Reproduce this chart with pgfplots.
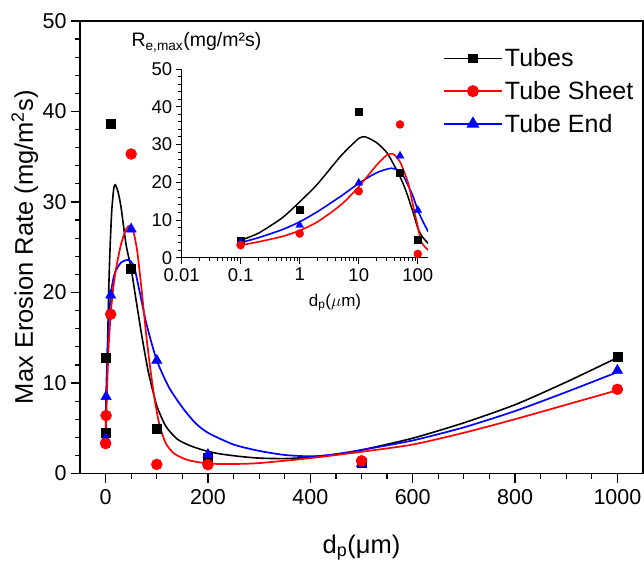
\documentclass[border=0pt]{standalone}
\usepackage{pgfplots}
\pgfplotsset{compat=1.18}
\usepackage{fontspec}
\setmainfont{Liberation Sans}
\begin{document}
\begin{tikzpicture}
\begin{axis}[
  name=main, at={(0pt,0pt)}, anchor=south west,
  scale only axis, width=563pt, height=452.5pt,
  xmin=-50, xmax=1050, ymin=0, ymax=50,
  xtick={0,200,...,1000}, ytick={0,10,...,50},
  minor x tick num=3, minor y tick num=4,
  tick align=outside, xtick pos=bottom, ytick pos=left,
  major tick length=9pt, minor tick length=5pt,
  axis line style={line width=1.3pt},
  every tick/.style={black, line width=1.2pt},
  tick label style={font=\fontsize{21.5}{25}\selectfont},
  /pgf/number format/assume math mode=true,
  /pgf/number format/1000 sep={},
  xticklabel style={yshift=-3pt},
  yticklabel style={xshift=-1pt},
  xlabel={d\textsubscript{p}(μm)},
  ylabel={Max Erosion Rate (mg/m\textsuperscript{2}s)},
  label style={font=\fontsize{25.5}{30}\selectfont},
  xlabel style={at={(axis description cs:0.5,-0.176)}, anchor=base},
  ylabel style={at={(axis description cs:-0.0835,0.5)}, anchor=base},
  legend style={draw=none, fill=none, at={(0.639,0.948)}, anchor=north west,
    font=\fontsize{25}{29}\selectfont, cells={anchor=west}, row sep=9pt,
    nodes={inner sep=2pt}},
  legend image code/.code={\draw[#1, mark repeat=2, mark phase=2] plot coordinates {(0pt,0pt) (29pt,0pt) (58pt,0pt)};},
]
\addlegendimage{black, line width=1.9pt, mark=square*, mark size=4pt}
\addlegendentry{Tubes}
\addlegendimage{red, line width=2pt, mark=*, mark size=5pt}
\addlegendentry{Tube Sheet}
\addlegendimage{blue, line width=2pt, mark=triangle*, mark size=5.5pt}
\addlegendentry{Tube End}

% fitted curves
\addplot[forget plot, black, line width=1.6pt, smooth, tension=0.4, mark=none] table {
0.1 4.5
1 5.8
3.5 13
6 20
8.6 24.7
12 29
16 31.5
19 31.9
24 31.2
30 29.5
40 25.3
50 22.6
60 19
72 14.8
84 11.1
100 7.5
118 5.2
140 3.8
164 3.1
190 2.6
220 2.2
260 1.9
300 1.7
350 1.65
400 1.8
450 2.15
500 2.6
600 3.9
700 5.6
800 7.6
900 10.1
1000 12.8
};
\addplot[forget plot, blue, line width=1.7pt, smooth, tension=0.4, mark=none] table {
0.1 4.0
1 8.5
3 12.5
6 16.5
10 19.7
15 21.5
20 22.4
30 23.3
44 23.6
55 23
65 20.5
80 16.5
100 12.5
124 9.5
150 7.3
175 5.6
200 4.5
250 3.2
300 2.5
350 2.05
400 1.9
450 2.1
500 2.6
600 3.65
700 5.1
800 6.9
900 9.0
1000 11.2
};
\addplot[forget plot, red, line width=1.7pt, smooth, tension=0.4, mark=none] table {
0.1 3.3
1 6.0
3 9.5
6 14
10 17.6
15 20.5
20 22.5
30 25.3
40 27
48 27.4
55 26.6
62 24.5
70 20.5
80 15
88.5 11.1
97 7.8
106 5.2
118 3.3
134 2.2
160 1.5
200 1.1
250 1.05
300 1.15
400 1.7
500 2.4
600 3.2
700 4.5
800 6.0
900 7.6
1000 9.2
};
% data points
\addplot[forget plot, only marks, mark=square*, mark size=4.5pt, black] table {
0.1 4.5
1 12.8
10 38.6
50 22.6
100 4.9
200 1.8
500 1.2
1000 12.9
};
\addplot[forget plot, only marks, mark=triangle*, mark size=6pt, blue] table {
0.1 3.8
1 8.5
10 19.7
50 27.0
100 12.5
200 2.1
500 1.1
1000 11.4
};
\addplot[forget plot, only marks, mark=*, mark size=5.5pt, red] table {
0.1 3.3
1 6.4
10 17.6
50 35.3
100 1.0
200 0.97
500 1.4
1000 9.3
};
\end{axis}

\begin{axis}[
  name=inset, at={(101.6pt,215.8pt)}, anchor=south west,
  scale only axis, width=246.6pt, height=188.7pt,
  xmode=log, xmin=0.01, xmax=150, ymin=0, ymax=50,
  axis lines=left, axis line style={-, line width=1pt},
  xtick={0.01,0.1,1,10,100}, xticklabels={0.01,0.1,1,10,100},
  minor xtick={0.02,0.03,0.04,0.05,0.06,0.07,0.08,0.09,0.2,0.3,0.4,0.5,0.6,0.7,0.8,0.9,2,3,4,5,6,7,8,9,20,30,40,50,60,70,80,90},
  ytick={0,10,...,50}, minor y tick num=4,
  tick align=outside,
  major tick length=6pt, minor tick length=3.5pt,
  every tick/.style={black, line width=0.9pt},
  tick label style={font=\fontsize{18.5}{22}\selectfont},
  /pgf/number format/assume math mode=true,
  xticklabel style={yshift=-1pt},
  xlabel={d\textsubscript{p}($\mu$m)},
  xlabel style={font=\fontsize{17}{20}\selectfont, at={(axis description cs:0.622,-0.256)}, anchor=base},
]
\addplot[black, line width=1.5pt, smooth, tension=0.4, mark=none] table {
0.1 4.6
0.2 6.5
0.5 10.5
1 14.8
2 19.5
5 27
10 31.6
13 32
20 30.5
30 27.8
44 23.2
55 20
65 17.1
84 11.8
100 7.8
120 5.5
150 3.8
};
\addplot[blue, line width=1.6pt, smooth, tension=0.4, mark=none] table {
0.1 4.0
0.2 5.3
0.5 7.4
1 9.5
2 12.2
5 16.3
10 19.7
20 22.5
36 23.7
53 22.4
79 17.1
100 12.6
120 9.8
150 6.9
};
\addplot[red, line width=1.6pt, smooth, tension=0.4, mark=none] table {
0.1 3.3
0.2 4.2
0.5 5.6
1 7.2
2 9.5
5 14
10 18.8
20 24.5
30 27.2
38 27.5
50 25.4
69 19.7
84 13.5
100 8.2
116 4.0
150 2.0
};
\addplot[only marks, mark=square*, mark size=3.5pt, black] table {
0.1 4.6
1 12.8
10 38.6
50 22.6
100 4.9
};
\addplot[only marks, mark=triangle*, mark size=4.5pt, blue] table {
0.1 4.0
1 8.6
10 19.8
50 27.0
100 12.6
};
\addplot[only marks, mark=*, mark size=4pt, red] table {
0.1 3.3
1 6.4
10 17.6
50 35.3
100 1.0
};
\end{axis}
\node[anchor=base west, font=\fontsize{19.5}{23}\selectfont] at (48pt,426.5pt) {R\textsubscript{e,max}(mg/m²s)};
\pgfresetboundingbox
\path (-80pt,-88.5pt) rectangle (564pt,473.5pt);
\end{tikzpicture}
\end{document}
